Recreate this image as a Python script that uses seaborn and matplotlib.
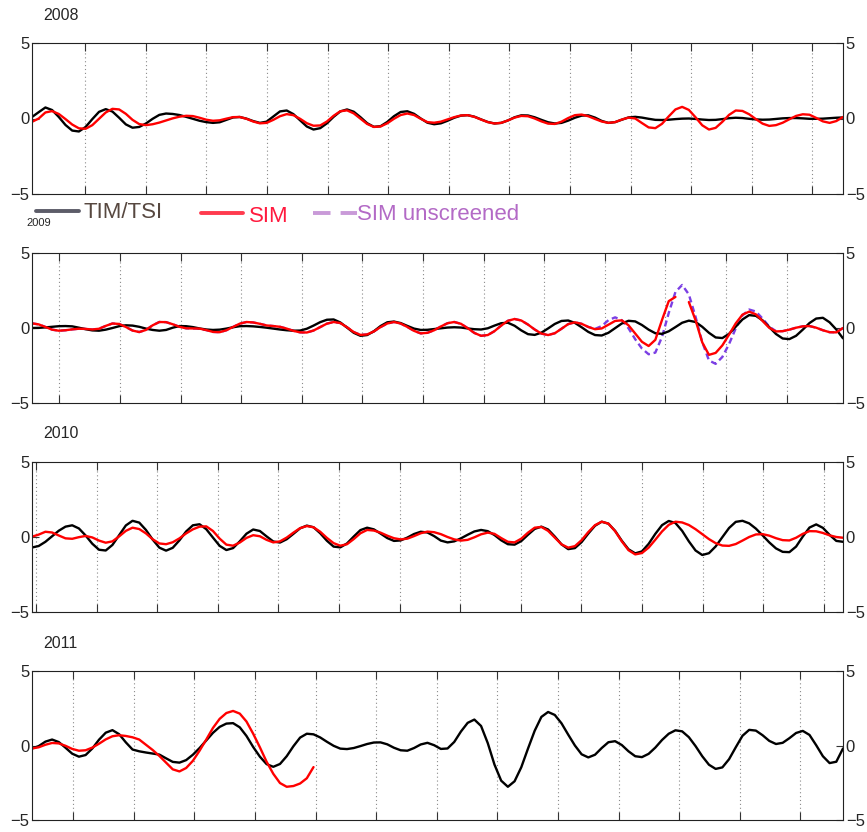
import numpy as np
import pandas as pd
import matplotlib
matplotlib.use("Agg")
import matplotlib.pyplot as plt
import seaborn as sns
from matplotlib.lines import Line2D

# ---- data: filtered signal per year, sampled every ~3 days (Jan 1 -> Dec 31) ----
N_DAYS = 365
days = np.linspace(0, N_DAYS, 122)

years = ["2008", "2009", "2010", "2011"]

# start of first solar rotation shown in each year (day of year)
rot_start = [23.9, 12.3, 1.8, 18.5]
ROT_PERIOD = 27.2753

tim_2008 = [
    0.10, 0.42, 0.73, 0.56, 0.10, -0.43, -0.80, -0.86, -0.56, -0.04,
    0.44, 0.62, 0.46, 0.05, -0.39, -0.61, -0.56, -0.33, -0.02, 0.24,
    0.33, 0.30, 0.23, 0.11, -0.02, -0.15, -0.24, -0.29, -0.25, -0.09,
    0.07, 0.10, -0.01, -0.17, -0.29, -0.21, 0.13, 0.47, 0.53, 0.29,
    -0.12, -0.53, -0.73, -0.64, -0.32, 0.11, 0.47, 0.60, 0.45, 0.09,
    -0.31, -0.55, -0.51, -0.23, 0.15, 0.43, 0.48, 0.31, 0.00, -0.28,
    -0.38, -0.32, -0.15, 0.05, 0.19, 0.22, 0.12, -0.06, -0.23, -0.33,
    -0.29, -0.13, 0.08, 0.21, 0.20, 0.08, -0.09, -0.25, -0.33, -0.29,
    -0.14, 0.05, 0.19, 0.21, 0.06, -0.16, -0.29, -0.24, -0.08, 0.07,
    0.11, 0.06, -0.02, -0.09, -0.10, -0.08, -0.04, -0.01, 0.00, -0.03,
    -0.07, -0.10, -0.09, -0.04, 0.02, 0.05, 0.03, -0.02, -0.06, -0.08,
    -0.07, -0.03, 0.01, 0.03, 0.03, 0.01, -0.02, -0.02, -0.01, 0.02,
    0.05, 0.07,
]
sim_2008 = [
    -0.22, 0.00, 0.40, 0.49, 0.30, -0.04, -0.40, -0.65, -0.68, -0.44,
    -0.02, 0.40, 0.64, 0.60, 0.31, -0.09, -0.37, -0.44, -0.38, -0.27,
    -0.13, 0.01, 0.12, 0.18, 0.16, 0.05, -0.08, -0.15, -0.12, -0.01,
    0.09, 0.10, -0.02, -0.20, -0.32, -0.29, -0.09, 0.15, 0.29, 0.22,
    -0.02, -0.31, -0.48, -0.46, -0.20, 0.18, 0.48, 0.54, 0.34, -0.01,
    -0.36, -0.56, -0.53, -0.32, -0.02, 0.23, 0.33, 0.23, -0.02, -0.24,
    -0.28, -0.21, -0.06, 0.09, 0.20, 0.22, 0.11, -0.07, -0.24, -0.33,
    -0.29, -0.13, 0.06, 0.17, 0.15, 0.00, -0.19, -0.34, -0.36, -0.21,
    0.03, 0.22, 0.26, 0.15, -0.03, -0.20, -0.29, -0.24, -0.07, 0.06,
    0.00, -0.30, -0.59, -0.64, -0.35, 0.14, 0.60, 0.77, 0.57, 0.08,
    -0.45, -0.73, -0.62, -0.22, 0.24, 0.53, 0.50, 0.28, -0.04, -0.34,
    -0.49, -0.44, -0.28, -0.05, 0.17, 0.28, 0.25, 0.04, -0.19, -0.29,
    -0.17, 0.10,
]

tim_2009 = [
    0.00, 0.01, 0.04, 0.08, 0.12, 0.13, 0.11, 0.02, -0.08, -0.16,
    -0.18, -0.11, 0.00, 0.12, 0.18, 0.16, 0.08, -0.04, -0.13, -0.18,
    -0.13, 0.02, 0.13, 0.12, 0.06, -0.03, -0.10, -0.13, -0.11, -0.04,
    0.05, 0.12, 0.13, 0.11, 0.07, 0.02, -0.04, -0.10, -0.15, -0.18,
    -0.17, -0.05, 0.16, 0.39, 0.55, 0.57, 0.37, 0.03, -0.32, -0.52,
    -0.47, -0.22, 0.13, 0.38, 0.43, 0.33, 0.14, -0.04, -0.13, -0.12,
    -0.07, -0.02, 0.03, 0.05, 0.03, -0.03, -0.08, -0.10, -0.02, 0.16,
    0.32, 0.35, 0.15, -0.16, -0.41, -0.46, -0.31, -0.03, 0.27, 0.47,
    0.50, 0.34, 0.05, -0.26, -0.47, -0.50, -0.32, -0.01, 0.30, 0.48,
    0.44, 0.20, -0.11, -0.35, -0.39, -0.22, 0.06, 0.35, 0.49, 0.40,
    0.08, -0.32, -0.63, -0.67, -0.39, 0.09, 0.57, 0.86, 0.81, 0.51,
    0.06, -0.40, -0.70, -0.74, -0.52, -0.11, 0.33, 0.63, 0.68, 0.38,
    -0.10, -0.69,
]
sim_2009 = [
    0.31, 0.24, 0.07, -0.11, -0.18, -0.15, -0.09, -0.05, -0.06, -0.10,
    -0.05, 0.14, 0.30, 0.27, 0.07, -0.17, -0.27, -0.13, 0.18, 0.40,
    0.39, 0.25, 0.08, -0.02, -0.03, -0.04, -0.14, -0.26, -0.28, -0.15,
    0.07, 0.29, 0.40, 0.37, 0.28, 0.17, 0.13, 0.08, -0.04, -0.19,
    -0.29, -0.30, -0.17, 0.06, 0.29, 0.40, 0.33, 0.05, -0.27, -0.46,
    -0.43, -0.23, 0.06, 0.30, 0.40, 0.30, 0.07, -0.19, -0.36, -0.32,
    -0.15, 0.10, 0.32, 0.40, 0.28, -0.01, -0.33, -0.52, -0.47, -0.21,
    0.16, 0.48, 0.60, 0.50, 0.23, -0.10, -0.37, -0.47, -0.35, -0.05,
    0.26, 0.38, 0.28, 0.07, -0.08, -0.03, 0.22, 0.47, 0.51, 0.18,
    -0.37, -0.92, -1.20, -0.79, 0.54, 1.79, 2.07, np.nan, 1.73, 0.52,
    -0.96, -1.79, -1.66, -1.16, -0.44, 0.31, 0.89, 1.09, 0.91, 0.47,
    0.01, -0.23, -0.21, -0.11, 0.02, 0.11, 0.13, 0.02, -0.15, -0.28,
    -0.29, 0.00,
]
sim_unscreened_2009 = [
    0.31, 0.24, 0.07, -0.11, -0.18, -0.15, -0.09, -0.05, -0.06, -0.10,
    -0.05, 0.14, 0.30, 0.27, 0.07, -0.17, -0.27, -0.13, 0.18, 0.40,
    0.39, 0.25, 0.08, -0.02, -0.03, -0.04, -0.14, -0.26, -0.28, -0.15,
    0.07, 0.29, 0.40, 0.37, 0.28, 0.17, 0.13, 0.08, -0.04, -0.19,
    -0.29, -0.30, -0.17, 0.06, 0.29, 0.40, 0.33, 0.05, -0.27, -0.46,
    -0.43, -0.23, 0.06, 0.30, 0.40, 0.30, 0.07, -0.19, -0.36, -0.32,
    -0.15, 0.10, 0.32, 0.40, 0.28, -0.01, -0.33, -0.52, -0.47, -0.21,
    0.16, 0.48, 0.60, 0.50, 0.23, -0.10, -0.37, -0.47, -0.35, -0.05,
    0.26, 0.38, 0.28, 0.07, -0.06, 0.13, 0.52, 0.71, 0.52, -0.02,
    -0.75, -1.37, -1.75, -1.64, -0.59, 1.00, 2.40, 2.87, 2.24, 0.75,
    -0.94, -2.16, -2.39, -1.93, -1.07, -0.02, 0.84, 1.23, 1.10, 0.63,
    0.09, -0.21, -0.21, -0.11, 0.02, 0.11, 0.13, 0.02, -0.15, -0.28,
    -0.29, 0.00,
]

tim_2010 = [
    -0.70, -0.60, -0.32, 0.05, 0.42, 0.69, 0.78, 0.57, 0.10, -0.45,
    -0.85, -0.90, -0.53, 0.12, 0.77, 1.08, 0.96, 0.47, -0.17, -0.71,
    -0.91, -0.72, -0.22, 0.37, 0.78, 0.85, 0.52, -0.04, -0.59, -0.87,
    -0.74, -0.29, 0.22, 0.50, 0.40, 0.04, -0.30, -0.37, -0.15, 0.21,
    0.58, 0.76, 0.65, 0.25, -0.25, -0.64, -0.69, -0.43, 0.03, 0.46,
    0.62, 0.51, 0.23, -0.07, -0.26, -0.23, -0.04, 0.20, 0.35, 0.30,
    0.06, -0.24, -0.36, -0.29, -0.09, 0.15, 0.37, 0.47, 0.39, 0.13,
    -0.22, -0.48, -0.51, -0.27, 0.15, 0.54, 0.69, 0.50, 0.03, -0.49,
    -0.81, -0.74, -0.34, 0.23, 0.75, 1.02, 0.89, 0.41, -0.25, -0.82,
    -1.09, -0.96, -0.46, 0.21, 0.79, 1.07, 0.93, 0.41, -0.29, -0.90,
    -1.20, -1.08, -0.63, -0.01, 0.60, 1.01, 1.08, 0.91, 0.56, 0.11,
    -0.36, -0.76, -0.99, -1.01, -0.64, 0.03, 0.63, 0.84, 0.61, 0.14,
    -0.26, -0.32,
]
sim_2010 = [
    0.02, 0.16, 0.35, 0.30, 0.10, -0.09, -0.12, -0.01, 0.07, -0.03,
    -0.24, -0.38, -0.29, 0.04, 0.41, 0.62, 0.53, 0.24, -0.15, -0.43,
    -0.48, -0.35, -0.09, 0.24, 0.51, 0.69, 0.71, 0.40, -0.11, -0.51,
    -0.58, -0.37, -0.06, 0.12, 0.05, -0.19, -0.36, -0.29, -0.04, 0.29,
    0.59, 0.73, 0.65, 0.35, -0.06, -0.41, -0.58, -0.48, -0.14, 0.25,
    0.47, 0.43, 0.29, 0.09, -0.08, -0.16, -0.11, 0.06, 0.25, 0.36,
    0.32, 0.19, 0.00, -0.16, -0.24, -0.19, -0.02, 0.18, 0.29, 0.21,
    -0.07, -0.32, -0.36, -0.11, 0.29, 0.62, 0.67, 0.41, -0.04, -0.49,
    -0.71, -0.61, -0.21, 0.33, 0.79, 1.02, 0.89, 0.39, -0.29, -0.88,
    -1.16, -1.07, -0.71, -0.18, 0.37, 0.81, 1.02, 0.97, 0.80, 0.52,
    0.19, -0.14, -0.41, -0.57, -0.59, -0.47, -0.24, 0.00, 0.17, 0.19,
    0.09, -0.08, -0.21, -0.23, -0.05, 0.21, 0.39, 0.38, 0.27, 0.11,
    0.00, -0.05,
]

tim_2011 = [
    -0.20, -0.04, 0.26, 0.40, 0.23, -0.15, -0.55, -0.75, -0.64, -0.20,
    0.39, 0.86, 1.03, 0.76, 0.21, -0.27, -0.39, -0.47, -0.54, -0.61,
    -0.86, -1.10, -1.15, -0.98, -0.62, -0.17, 0.34, 0.85, 1.25, 1.47,
    1.50, 1.22, 0.64, -0.10, -0.75, -1.25, -1.43, -1.24, -0.72, -0.05,
    0.53, 0.79, 0.75, 0.54, 0.25, -0.02, -0.21, -0.24, -0.17, -0.04,
    0.10, 0.20, 0.21, 0.08, -0.15, -0.32, -0.35, -0.17, 0.07, 0.18,
    0.02, -0.23, -0.20, 0.24, 0.94, 1.52, 1.74, 1.31, 0.16, -1.28,
    -2.36, -2.77, -2.40, -1.46, -0.21, 0.99, 1.92, 2.25, 2.05, 1.49,
    0.73, 0.00, -0.59, -0.80, -0.62, -0.17, 0.22, 0.29, 0.03, -0.39,
    -0.72, -0.78, -0.56, -0.14, 0.37, 0.79, 1.02, 0.95, 0.56, -0.04,
    -0.72, -1.29, -1.57, -1.47, -0.92, -0.12, 0.65, 1.05, 1.00, 0.69,
    0.31, 0.10, 0.18, 0.49, 0.84, 0.98, 0.71, 0.02, -0.72, -1.18,
    -1.09, -0.20,
]
# SIM record stops in early May 2011
sim_2011 = [
    -0.20, -0.12, 0.05, 0.17, 0.14, -0.02, -0.23, -0.35, -0.32, -0.14,
    0.12, 0.41, 0.62, 0.69, 0.64, 0.55, 0.40, 0.05, -0.30, -0.70,
    -1.15, -1.60, -1.74, -1.51, -1.03, -0.35, 0.40, 1.18, 1.79, 2.18,
    2.32, 2.14, 1.61, 0.79, -0.12, -1.09, -1.90, -2.52, -2.77, -2.72,
    -2.55, -2.20, -1.45,
]

tim_series = [tim_2008, tim_2009, tim_2010, tim_2011]
sim_series = [sim_2008, sim_2009, sim_2010, sim_2011]

# panel rectangles in pixels (top, bottom), shared left/right edges
FIG_W, FIG_H = 867, 832
AX_LEFT, AX_RIGHT = 32, 843
panel_px = [(43, 194), (253, 403), (462, 612), (671, 820)]

BLACK = "#000000"
RED = "#ff0000"
PURPLE = "#7b3fe4"


def fx(x):
    return x / FIG_W


def fy(y):
    return 1 - y / FIG_H


def draw_series(ax, values, color, **kw):
    """Draw one series, leaving gaps where values are missing."""
    v = np.asarray(values, dtype=float)
    d = days[: len(v)]
    seg = np.cumsum(np.isnan(v))
    df = pd.DataFrame({"day": d, "val": v, "seg": seg}).dropna()
    sns.lineplot(
        data=df, x="day", y="val", units="seg", estimator=None, sort=False,
        color=color, linewidth=1.7, ax=ax, legend=False,
        solid_joinstyle="round", solid_capstyle="round", **kw,
    )


sns.set_style("white")
plt.rcParams["font.family"] = ["Liberation Sans", "DejaVu Sans"]
plt.rcParams["axes.unicode_minus"] = True

fig = plt.figure(figsize=(FIG_W / 100, FIG_H / 100), dpi=100)

for i, (top, bottom) in enumerate(panel_px):
    ax = fig.add_axes([fx(AX_LEFT), fy(bottom), (AX_RIGHT - AX_LEFT) / FIG_W, (bottom - top) / FIG_H])

    if i == 1:
        draw_series(ax, sim_unscreened_2009, PURPLE, linestyle=(0, (2.6, 1.6)))
    draw_series(ax, tim_series[i], BLACK)
    draw_series(ax, sim_series[i], RED)

    ticks = np.arange(rot_start[i], N_DAYS, ROT_PERIOD)
    ax.set_xlim(0, N_DAYS)
    ax.set_ylim(-5, 5)
    ax.set_xticks(ticks)
    ax.set_yticks([-5, 0, 5])
    ax.set_xlabel("")
    ax.set_ylabel("")
    ax.grid(axis="x", linestyle=(0, (1, 2.5)), color="#8a8a8a", linewidth=0.8)
    ax.grid(axis="y", visible=False)
    ax.tick_params(axis="x", direction="in", top=True, bottom=True, length=5.5,
                   width=0.8, color="#333333", labelbottom=False)
    ax.tick_params(axis="y", direction="in", left=True, right=True, length=5,
                   width=0.8, color="#333333", labelleft=True, labelright=True,
                   labelsize=12, pad=2)
    for sp in ax.spines.values():
        sp.set_visible(True)
        sp.set_color("#222222")
        sp.set_linewidth(0.8)

    if i != 1:
        fig.text(fx(43), fy(top - 28), years[i], fontsize=11.5, va="center", ha="left")

# the 2009 label sits small under the legend strip
fig.text(fx(26), fy(223), years[1], fontsize=8, va="center", ha="left")

# ---- legend strip between the first two panels ----
leg_font = ["Liberation Sans Narrow", "Liberation Sans", "DejaVu Sans"]
fig.add_artist(Line2D([fx(36), fx(79)], [fy(211), fy(211)], color="#5c5c68", linewidth=2.8))
fig.text(fx(83), fy(213), "TIM/TSI", color="#574840", fontsize=16, family=leg_font, va="center")
fig.add_artist(Line2D([fx(201), fx(243)], [fy(213), fy(213)], color="#ff3b4e", linewidth=2.8))
fig.text(fx(249), fy(217), "SIM", color="#ff1a3e", fontsize=16, family=leg_font, va="center")
fig.add_artist(Line2D([fx(313), fx(357)], [fy(213), fy(213)], color="#c99ad8", linewidth=2.8,
                      linestyle=(0, (4.5, 2.6))))
fig.text(fx(357), fy(214), "SIM unscreened", color="#b36ac6", fontsize=16, family=leg_font, va="center")

fig.savefig("out.png", dpi=100)
